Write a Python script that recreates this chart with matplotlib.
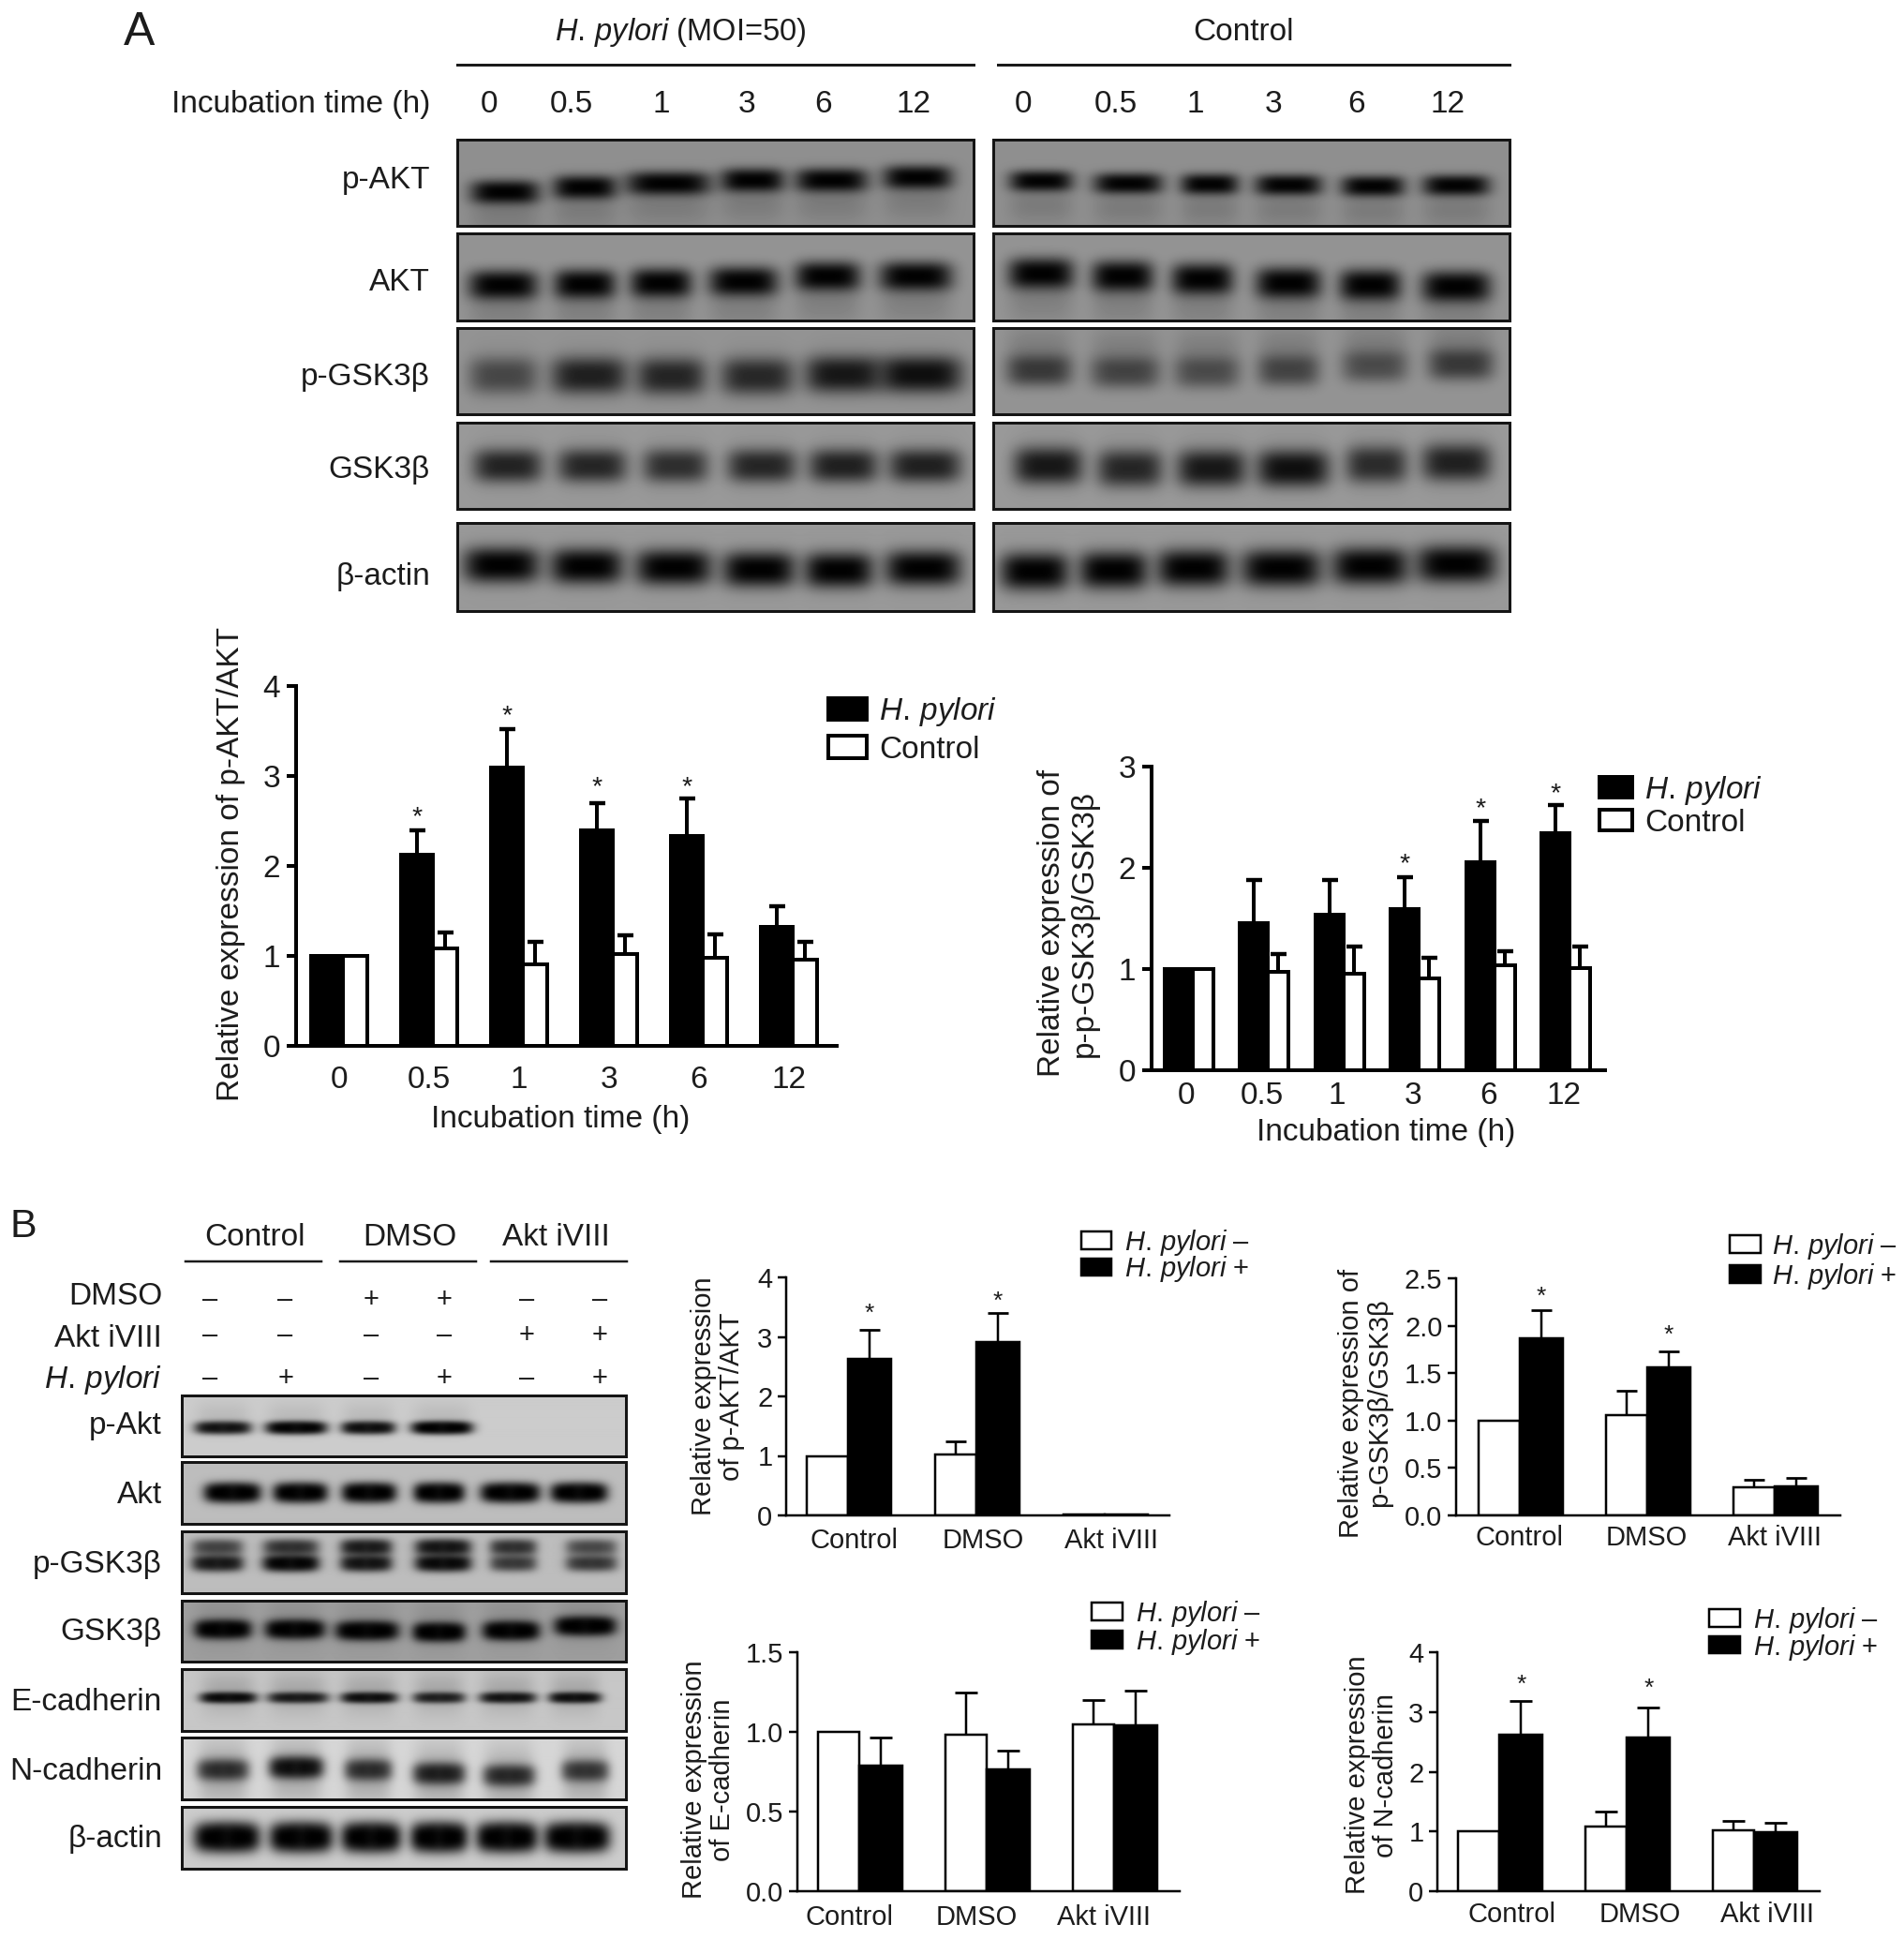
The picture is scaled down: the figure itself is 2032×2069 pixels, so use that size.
import numpy as np
import matplotlib
matplotlib.use("Agg")
import matplotlib.pyplot as plt

W, H = 2032, 2069
plt.rcParams['font.family'] = ['Liberation Sans', 'DejaVu Sans']
plt.rcParams['mathtext.fontset'] = 'custom'
plt.rcParams['mathtext.rm'] = 'Liberation Sans'
plt.rcParams['mathtext.it'] = 'Liberation Sans:italic'
plt.rcParams['mathtext.bf'] = 'Liberation Sans:bold'
TXT = '#1c1c1c'
HP = r'$\mathit{H.\,pylori}$'

# ---------- chart data ----------
times = ['0', '0.5', '1', '3', '6', '12']
groups = ['Control', 'DMSO', 'Akt iVIII']

a1_hp = [1.0, 2.12, 3.09, 2.40, 2.33, 1.32]
a1_hp_top = [np.nan, 2.40, 3.52, 2.70, 2.75, 1.55]
a1_ct = [1.0, 1.08, 0.91, 1.02, 0.98, 0.955]
a1_ct_top = [np.nan, 1.26, 1.16, 1.23, 1.24, 1.16]
a1_star = [np.nan, 2.60, 3.72, 2.93, 2.93, np.nan]

a2_hp = [1.0, 1.45, 1.54, 1.59, 2.06, 2.34]
a2_hp_top = [np.nan, 1.88, 1.88, 1.91, 2.46, 2.62]
a2_ct = [1.0, 0.97, 0.95, 0.91, 1.04, 1.01]
a2_ct_top = [np.nan, 1.15, 1.22, 1.11, 1.18, 1.22]
a2_star = [np.nan, np.nan, np.nan, 2.08, 2.63, 2.78]

b1_neg = [1.0, 1.03, 0.01]
b1_neg_top = [np.nan, 1.24, np.nan]
b1_pos = [2.635, 2.92, 0.01]
b1_pos_top = [3.12, 3.40, np.nan]
b1_star = [3.46, 3.66, np.nan]

b2_neg = [1.0, 1.06, 0.30]
b2_neg_top = [np.nan, 1.31, 0.375]
b2_pos = [1.865, 1.56, 0.31]
b2_pos_top = [2.16, 1.73, 0.395]
b2_star = [2.35, 1.94, np.nan]

b3_neg = [1.0, 0.98, 1.05]
b3_neg_top = [np.nan, 1.247, 1.20]
b3_pos = [0.787, 0.763, 1.04]
b3_pos_top = [0.963, 0.885, 1.26]

b4_neg = [1.0, 1.08, 1.02]
b4_neg_top = [np.nan, 1.335, 1.17]
b4_pos = [2.62, 2.58, 0.985]
b4_pos_top = [3.18, 3.08, 1.15]
b4_star = [3.53, 3.47, np.nan]

# ---------- blot band data: lane centre, height, half width, darkness ----------
pA_L_x = [432, 520, 612, 705, 792, 887]; pA_L_y = [480, 468, 458, 450, 450, 443]; pA_L_w = [38, 35, 47, 35, 40, 38]
pA_R_x = [1022, 1118, 1208, 1295, 1388, 1480]; pA_R_y = [452, 458, 460, 462, 465, 463]; pA_R_w = [35, 38, 32, 37, 35, 37]
AK_L_x = [430, 520, 604, 695, 788, 885]; AK_L_y = [712, 710, 707, 703, 690, 690]; AK_L_w = [38, 34, 34, 38, 36, 40]
AK_R_x = [1022, 1112, 1200, 1295, 1385, 1480]; AK_R_y = [683, 690, 697, 707, 712, 716]; AK_R_w = [36, 34, 34, 36, 34, 38]
pG_L_x = [430, 525, 615, 710, 805, 890]; pG_L_y = [938, 938, 940, 940, 935, 935]; pG_L_d = [.50, .78, .74, .72, .84, .90]; pG_L_w = [38, 42, 38, 40, 42, 46]
pG_R_x = [1020, 1115, 1205, 1295, 1390, 1485]; pG_R_y = [925, 930, 930, 925, 915, 910]; pG_R_d = [.58, .50, .44, .50, .44, .58]; pG_R_w = [36, 38, 36, 34, 36, 36]
GS_L_x = [435, 528, 620, 715, 805, 895]; GS_L_y = [1163] * 6; GS_L_d = [.76, .74, .68, .74, .78, .78]; GS_L_w = [38, 38, 36, 38, 38, 40]
GS_R_x = [1030, 1120, 1210, 1300, 1392, 1480]; GS_R_y = [1163, 1170, 1170, 1170, 1160, 1155]; GS_R_d = [.84, .74, .84, .90, .70, .78]; GS_R_w = [38, 36, 38, 40, 34, 38]
BA_L_x = [428, 522, 618, 712, 800, 893]; BA_L_y = [1412, 1415, 1418, 1423, 1425, 1420]; BA_L_w = [42, 40, 42, 40, 38, 42]
BA_R_x = [1015, 1102, 1190, 1287, 1385, 1480]; BA_R_y = [1428, 1425, 1420, 1420, 1415, 1410]; BA_R_w = [38, 38, 40, 44, 42, 44]

b_pA_x = [540, 718, 893, 1072]; b_pA_d = [.78, .94, .82, .98]; b_pA_w = [65, 70, 62, 70]
b_AK_x = [563, 728, 895, 1065, 1238, 1405]; b_AK_w = [65, 62, 62, 58, 68, 65]
b_pG_x = [527, 705, 888, 1075, 1245, 1435]; b_pG_w = [60, 65, 60, 65, 55, 60]; b_pG_d = [.72, .92, .76, .86, .50, .52]; b_pG_u = [.45, .55, .70, .75, .55, .42]
b_GS_x = [540, 715, 890, 1065, 1240, 1420]; b_GS_y = [912, 912, 915, 918, 915, 905]; b_GS_w = [65, 68, 72, 60, 65, 70]
b_EC_x = [553, 722, 895, 1065, 1232, 1395]; b_EC_d = [.85, .7, .8, .65, .75, .8]; b_EC_w = [65, 70, 65, 60, 65, 60]
b_NC_x = [540, 718, 893, 1065, 1235, 1420]; b_NC_y = [1210, 1205, 1210, 1218, 1222, 1212]; b_NC_d = [.55, .8, .55, .65, .58, .5]; b_NC_w = [60, 62, 55, 60, 60, 55]
b_BA_x = [550, 730, 900, 1065, 1230, 1400]; b_BA_w = [75, 72, 68, 65, 70, 75]

fig = plt.figure(figsize=(W / 100, H / 100), dpi=100, facecolor='white')
PX = 0.72


def axes_px(l, t, r, b):
    return fig.add_axes([l / W, 1 - b / H, (r - l) / W, (b - t) / H])


def ftext(x, y, s, size=24, ha='center', va='center', **kw):
    fig.text(x / W, 1 - (y + 2.5) / H, s, fontsize=size, ha=ha, va=va, color=TXT, **kw)


def hline(x0, x1, y, lw):
    fig.add_artist(plt.Line2D([x0 / W, x1 / W], [1 - y / H] * 2, color='#1a1a1a', lw=lw * PX,
                              transform=fig.transFigure))


def blot(box, xs, ys, ws, darks, hh, bg, smear=0.0, sdy=0.0, lobes=False, shh=1.7):
    l, t, r, b = box
    ax = axes_px(l, t, r, b)
    yy, xx = np.mgrid[t:b:complex(0, int(b - t)), l:r:complex(0, int(r - l))]
    img = np.full(xx.shape, 1.0)
    for cx, cy, w, d in zip(xs, ys, ws, darks):
        if lobes:
            for off, wf in ((-0.48, 0.58), (0.48, 0.58), (0.0, 0.9)):
                m = np.exp(-np.abs((xx - cx - off * w) / (w * wf)) ** 3 - np.abs((yy - cy) / hh) ** 2.4)
                img *= 1 - (d if off else d * 0.8) * m
        else:
            m = np.exp(-np.abs((xx - cx) / w) ** 4 - np.abs((yy - cy) / hh) ** 2.6)
            img *= 1 - d * m
        if smear:
            m = np.exp(-np.abs((xx - cx) / w) ** 4 - np.abs((yy - cy - sdy) / (hh * shh)) ** 2)
            img *= 1 - smear * m
    ax.imshow(img * bg, cmap='gray', vmin=0, vmax=1, extent=(l, r, b, t), aspect='auto',
              interpolation='bilinear')
    ax.set_xticks([]); ax.set_yticks([])
    for s in ax.spines.values():
        s.set_linewidth(3 * PX); s.set_color('#151515')


def zA(xs=None, ys=None):
    out = []
    if xs is not None:
        out.append([120 + v / 1.0316 for v in xs])
    if ys is not None:
        out.append([v / 2.34 for v in ys])
    return out


def panelA(row, xs, ys, ws, darks, hh, bg, smear, sdy, right=False):
    t, b = row
    box = (1060, t, 1611, b) if right else (488, t, 1039, b)
    X, Y = zA(xs, ys)
    blot(box, X, Y, [v / 1.0316 for v in ws], darks, hh, bg, smear, sdy)


# ---------- blots A ----------
rowsA = [(149, 241), (249, 342), (350, 442), (451, 543), (558, 652)]
panelA(rowsA[0], pA_L_x, pA_L_y, pA_L_w, [.99] * 6, 13, .56, .14, 24)
panelA(rowsA[0], pA_R_x, pA_R_y, pA_R_w, [.98] * 6, 11.5, .56, .14, 26, right=True)
panelA(rowsA[1], AK_L_x, AK_L_y, AK_L_w, [.99] * 6, 16, .58, .14, 26)
panelA(rowsA[1], AK_R_x, AK_R_y, AK_R_w, [.99] * 6, 17, .58, .14, 26, right=True)
panelA(rowsA[2], pG_L_x, pG_L_y, pG_L_w, pG_L_d, 20, .58, .05, -8)
panelA(rowsA[2], pG_R_x, pG_R_y, pG_R_w, pG_R_d, 17, .58, .16, -20, right=True)
panelA(rowsA[3], GS_L_x, GS_L_y, GS_L_w, GS_L_d, 18, .60, .06, -4)
panelA(rowsA[3], GS_R_x, GS_R_y, GS_R_w, GS_R_d, 20, .60, .06, -8, right=True)
panelA(rowsA[4], BA_L_x, BA_L_y, BA_L_w, [.99] * 6, 19, .60, .03, 0)
panelA(rowsA[4], BA_R_x, BA_R_y, BA_R_w, [.99] * 6, 20, .60, .03, 0, right=True)

# ---------- panel A text ----------
ftext(149, 32, 'A', 36)
ftext(726, 32, HP + ' (MOI=50)', 23.5)
ftext(1327, 32, 'Control', 24)
hline(488, 1039, 68.5, 3)
hline(1065, 1611, 68.5, 3)
ftext(459, 109, 'Incubation time (h)', 24, ha='right')
for x, s in zip([522, 609.5, 706, 797, 879, 975, 1092, 1191, 1276, 1359, 1448, 1545], times * 2):
    ftext(x, 109, s, 24)
for y, s in zip([190, 299, 400, 499, 613], ['p-AKT', 'AKT', 'p-GSK3β', 'GSK3β', 'β-actin']):
    ftext(459, y, s, 24, ha='right')


# ---------- blots B ----------
def zBx(v):
    return [a / 2.272 for a in v]


def zBy(v):
    return [1280 + a / 1.987 for a in v]


def panelB(t, b, xs, ys, ws, darks, hh, bg, smear=0.0, sdy=0.0, lobes=True, shh=1.7):
    blot((194, 1280 + t / 1.987, 668, 1280 + b / 1.987), zBx(xs), zBy(ys), zBx(ws), darks, hh, bg, smear, sdy, lobes, shh)


panelB(415, 545, b_pA_x, [485] * 4, b_pA_w, b_pA_d, 6.5, .80, .08, -12, shh=2.5)
panelB(557, 688, b_AK_x, [622] * 6, b_AK_w, [.99] * 6, 10, .74)
panelB(703, 835, b_pG_x + b_pG_x, [772] * 6 + [738] * 6, b_pG_w + b_pG_w, b_pG_d + b_pG_u, 8.5, .74)
panelB(850, 980, b_GS_x, b_GS_y, b_GS_w, [.99] * 6, 9.5, .62, .10, -8, shh=3)
panelB(995, 1127, b_EC_x, [1057] * 6, b_EC_w, b_EC_d, 5.5, .78, .16, -6, shh=4)
panelB(1140, 1272, b_NC_x, b_NC_y, b_NC_w, b_NC_d, 11, .84, .22, 4, shh=3.2)
panelB(1288, 1418, b_BA_x, [1352] * 6, b_BA_w, [.99] * 6, 15, .80)

# ---------- panel B text ----------
ftext(25, 1306, 'B', 31)
for x, s in zip([272, 437, 593], groups):
    ftext(x, 1318, s, 24)
for a, b in [(198, 343), (363, 508), (524, 669)]:
    hline(a, b, 1346, 2.5)
for y, s in zip([1381, 1426, 1470], ['DMSO', 'Akt iVIII', HP]):
    ftext(173, y, s, 24, ha='right')
sign_x = [224.5, 304.6, 396, 474.5, 562.5, 640]
dmso_sign = ['–', '–', '+', '+', '–', '–']
akt_sign = ['–', '–', '–', '–', '+', '+']
hp_sign = ['–', '+', '–', '+', '–', '+']
for y, row in zip([1384, 1423, 1469], [dmso_sign, akt_sign, hp_sign]):
    for x, s in zip(sign_x, row):
        ftext(x, y, s, 21)
for y, s in zip([1519, 1593, 1667, 1739, 1814, 1888, 1960],
                ['p-Akt', 'Akt', 'p-GSK3β', 'GSK3β', 'E-cadherin', 'N-cadherin', 'β-actin']):
    ftext(173, y, s, 24, ha='right')


# ---------- bar charts ----------
def bars(box, ymax, yticks, ylabels, cats, x0, dx, wl, wr,
         lv, lt, lc, rv, rt, rc, stars, star_on, ylabel, yl_x, yl_y, fs, lw,
         tickoff, tickpad, ypad, ticklen, cap, xlabel=None, xl_y=None, xl_x=None,
         leg=None):
    l, t, r, b = box
    ax = axes_px(l, t, r, b)
    ax.patch.set_alpha(0)
    ax.set_ylim(0, ymax)
    ax.set_xlim((l - x0) / dx, (r - x0) / dx)
    x = np.arange(len(cats))
    h1 = ax.bar(x, lv, width=-wl / dx, align='edge', color=lc, edgecolor='black', linewidth=lw * PX, zorder=3)
    h2 = ax.bar(x, rv, width=wr / dx, align='edge', color=rc, edgecolor='black', linewidth=lw * PX, zorder=3)
    for vals, tops, xc in ((lv, lt, x - wl / dx / 2), (rv, rt, x + wr / dx / 2)):
        vals = np.array(vals); tops = np.array(tops)
        m = ~np.isnan(tops)
        if m.any():
            eb = ax.errorbar(xc[m], vals[m], yerr=[np.zeros(m.sum()), tops[m] - vals[m]], fmt='none',
                             ecolor='black', elinewidth=lw * PX, capsize=cap * PX, capthick=lw * PX * 1.1, zorder=2)
            eb[1][0].set_visible(False)
    if stars is not None:
        sx = x - wl / dx / 2 if star_on == 'left' else x + wr / dx / 2
        for xi, s in zip(sx, stars):
            if not np.isnan(s):
                ax.annotate('*', (xi, s), xytext=(0, -0.16 * fs), textcoords='offset points', ha='center',
                            va='center', fontsize=fs * 0.85 if fs > 22 else fs * 0.9, color=TXT)
    for s in ('top', 'right'):
        ax.spines[s].set_visible(False)
    for s in ('left', 'bottom'):
        ax.spines[s].set_linewidth(lw * PX)
        ax.spines[s].set_zorder(5)
    ax.set_yticks(yticks, ylabels)
    ax.set_xticks(x + tickoff, cats)
    ax.tick_params(axis='y', length=ticklen * PX, width=lw * PX, labelsize=fs, pad=ypad, labelcolor=TXT)
    ax.tick_params(axis='x', length=0, labelsize=fs, pad=tickpad, labelcolor=TXT)
    ax.set_ylabel(ylabel, fontsize=fs, color=TXT, linespacing=1.13, va='center')
    ax.yaxis.set_label_coords((yl_x - l) / (r - l), (b - yl_y) / (b - t))
    if xlabel:
        ax.set_xlabel(xlabel, fontsize=fs, color=TXT)
        ax.xaxis.set_label_coords((xl_x - l) / (r - l), (b - xl_y) / (b - t))
        ax.xaxis.label.set_va('center')
    if leg:
        ax_, ay_, names, ls, hl, hh, pad = leg
        lg = ax.legend([h1, h2], names, loc='upper left', bbox_to_anchor=(ax_ / W, 1 - ay_ / H),
                       bbox_transform=fig.transFigure, frameon=False, fontsize=fs, borderpad=0, borderaxespad=0,
                       labelspacing=ls, handlelength=hl, handleheight=hh, handletextpad=pad)
        for tx in lg.get_texts():
            tx.set_color(TXT)
    return ax


bars((316, 732, 893, 1116), 4, [0, 1, 2, 3, 4], ['0', '1', '2', '3', '4'], times, 366, 95.9, 34, 26,
     a1_hp, a1_hp_top, 'black', a1_ct, a1_ct_top, 'white', a1_star, 'left',
     'Relative expression of p-AKT/AKT', 247, 922, 24, 4, -0.04, 14.8, 5, 10, 8.5,
     'Incubation time (h)', 1194, 598, (884, 742, [HP, 'Control'], 0.23, 1.23, 0.69, 0.4))

bars((1229, 818, 1713, 1142), 3, [0, 1, 2, 3], ['0', '1', '2', '3'], times, 1272.6, 80.5, 30, 22,
     a2_hp, a2_hp_top, 'black', a2_ct, a2_ct_top, 'white', a2_star, 'left',
     'Relative expression of\np-p-GSK3β/GSK3β', 1140, 985, 24, 4, -0.08, 9, 5, 10, 8.5,
     'Incubation time (h)', 1208, 1479, (1707, 826, [HP, 'Control'], 0.06, 1.05, 0.62, 0.4))

minus = HP + ' –'
plus = HP + ' +'
bars((839, 1363, 1248, 1617), 4, [0, 1, 2, 3, 4], ['0', '1', '2', '3', '4'], groups, 905, 137, 44, 46,
     b1_neg, b1_neg_top, 'white', b1_pos, b1_pos_top, 'black', b1_star, 'right',
     'Relative expression\nof p-AKT/AKT', 766, 1490, 21, 2.5, 0.05, 9.5, 4, 9, 11,
     leg=(1154, 1310, [minus, plus], -0.12, 1.08, 0.6, 0.5))
bars((1554, 1364, 1964, 1617), 2.5, [0, .5, 1, 1.5, 2, 2.5], ['0.0', '0.5', '1.0', '1.5', '2.0', '2.5'], groups,
     1621.8, 135.9, 44, 46,
     b2_neg, b2_neg_top, 'white', b2_pos, b2_pos_top, 'black', b2_star, 'right',
     'Relative expression of\np-GSK3β/GSK3β', 1457, 1497, 21, 2.5, 0.0, 7.5, 4, 9, 11,
     leg=(1846, 1314, [minus, plus], 0.0, 1.12, 0.6, 0.42))
bars((851, 1763, 1259, 2018), 1.5, [0, .5, 1, 1.5], ['0.0', '0.5', '1.0', '1.5'], groups, 917, 136, 44, 46,
     b3_neg, b3_neg_top, 'white', b3_pos, b3_pos_top, 'black', None, 'right',
     'Relative expression\nof E-cadherin', 756, 1899, 21, 2.5, -0.08, 10, 4, 9, 12,
     leg=(1165, 1706, [minus, plus], -0.07, 1.12, 0.6, 0.5))
bars((1534, 1763, 1942, 2018), 4, [0, 1, 2, 3, 4], ['0', '1', '2', '3', '4'], groups, 1600.4, 136, 44, 46,
     b4_neg, b4_neg_top, 'white', b4_pos, b4_pos_top, 'black', b4_star, 'right',
     'Relative expression\nof N-cadherin', 1464, 1894, 21, 2.5, 0.1, 8, 4, 9, 12,
     leg=(1824, 1713, [minus, plus], -0.12, 1.12, 0.6, 0.5))

fig.savefig('out.png', dpi=100, facecolor='white')
